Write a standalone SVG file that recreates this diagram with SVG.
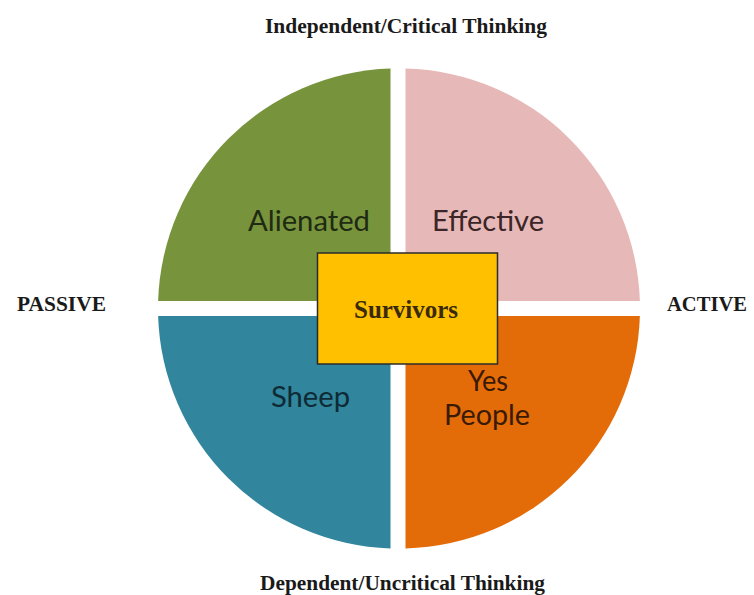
<svg xmlns="http://www.w3.org/2000/svg" width="754" height="595" viewBox="0 0 754 595">
  <style>
    .axis { font-family: "Liberation Serif", "Times New Roman", serif; font-weight: bold; font-size: 22px; fill: #1a1a1a; }
    .quad { font-family: Lato, "Open Sans", sans-serif; font-size: 28px; }
    .center { font-family: "Liberation Serif", "Times New Roman", serif; font-weight: bold; font-size: 25px; fill: #3a2a0a; }
  </style>
  <rect x="0" y="0" width="754" height="595" fill="#ffffff"/>
  <g id="alienated">
    <path d="M390.5,301 L390.5,68.62 A240,240 0 0 0 158.12,301 Z" fill="#77933C"/>
    <text class="quad" x="248" y="231" textLength="122" lengthAdjust="spacingAndGlyphs" fill="#1f2a12">Alienated</text>
  </g>
  <g id="effective">
    <path d="M405.5,301 L639.88,301 A240,240 0 0 0 405.5,68.62 Z" fill="#E6B9B8"/>
    <text class="quad" x="432" y="231" textLength="112" lengthAdjust="spacingAndGlyphs" fill="#3b2526">Effective</text>
  </g>
  <g id="sheep">
    <path d="M390.5,316 L158.12,316 A240,240 0 0 0 390.5,548.38 Z" fill="#31859C"/>
    <text class="quad" x="271" y="407" textLength="79" lengthAdjust="spacingAndGlyphs" fill="#0e2a35">Sheep</text>
  </g>
  <g id="yes-people">
    <path d="M405.5,316 L405.5,548.38 A240,240 0 0 0 639.88,316 Z" fill="#E36C09"/>
    <text class="quad" x="468" y="391" textLength="40" lengthAdjust="spacingAndGlyphs" fill="#3a1a04">Yes</text>
    <text class="quad" x="444" y="425" textLength="86" lengthAdjust="spacingAndGlyphs" fill="#3a1a04">People</text>
  </g>
  <g id="survivors">
    <rect x="317.5" y="253" width="180" height="111" fill="#FFC000" stroke="#2b2b2b" stroke-width="1.5"/>
    <text class="center" x="354" y="318" textLength="104" lengthAdjust="spacingAndGlyphs">Survivors</text>
  </g>
  <g id="label-top">
    <text class="axis" x="265" y="33" textLength="282" lengthAdjust="spacingAndGlyphs">Independent/Critical Thinking</text>
  </g>
  <g id="label-bottom">
    <text class="axis" x="260" y="590" textLength="285" lengthAdjust="spacingAndGlyphs">Dependent/Uncritical Thinking</text>
  </g>
  <g id="label-left">
    <text class="axis" x="17" y="311" textLength="89" lengthAdjust="spacingAndGlyphs">PASSIVE</text>
  </g>
  <g id="label-right">
    <text class="axis" x="667" y="311" textLength="80" lengthAdjust="spacingAndGlyphs">ACTIVE</text>
  </g>
  <g id="connectors"/>
</svg>
